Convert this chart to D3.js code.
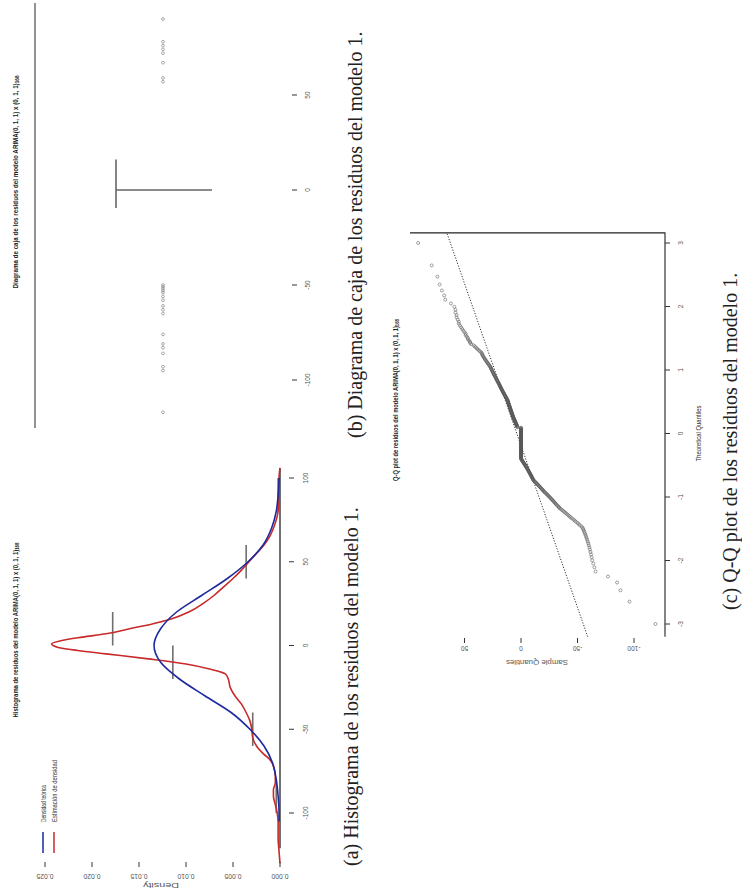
<!DOCTYPE html>
<html>
<head>
<meta charset="utf-8">
<script src="https://cdn.jsdelivr.net/npm/d3@7"></script>
<style>
  body { margin: 0; background: #fff; }
  svg { display: block; }
</style>
</head>
<body>
<script>
// ---- datos ----
// (a) histograma: inicio de cada clase visible (ancho 20) y su densidad
const histInicio = [-100, -60, -20, 0, 40, 80];
const histDensidad = [0.0004, 0.0029, 0.0114, 0.0178, 0.0036, 0.0002];
const histAncho = 20;
const histRango = [-121, 106];

// estimacion de densidad (rojo)
const densValores = [-130, -123, -115, -105, -100, -95, -90, -86, -82, -78, -72, -68, -65, -60, -55, -50, -45, -40, -35, -30, -25, -20, -17, -14, -11, -8, -5, -3, -1, 1, 3, 5, 7, 10, 13, 16, 20, 25, 30, 35, 40, 45, 50, 55, 60, 65, 70, 75, 80, 90, 100, 106];
const densEstimada = [0, 0.0001, 0.0002, 0.0002, 0.0003, 0.0005, 0.0007, 0.0007, 0.0005, 0.0005, 0.0007, 0.0011, 0.0017, 0.0025, 0.0029, 0.0030, 0.0032, 0.0036, 0.0041, 0.0048, 0.0053, 0.0055, 0.0058, 0.0075, 0.0100, 0.0140, 0.0185, 0.0215, 0.0237, 0.0243, 0.0232, 0.0210, 0.0185, 0.0160, 0.0135, 0.0115, 0.0097, 0.0082, 0.0070, 0.0060, 0.0050, 0.0041, 0.0033, 0.0025, 0.0017, 0.0011, 0.0007, 0.0004, 0.0002, 0.0001, 0.0001, 0];

// densidad teorica (azul)
const normValores = [-105, -100, -90, -80, -70, -60, -50, -40, -30, -20, -10, 0, 10, 20, 30, 40, 50, 60, 70, 80, 90, 100];
const normTeorica = [0.0001, 0.0001, 0.0002, 0.0004, 0.0008, 0.0017, 0.0032, 0.0052, 0.0080, 0.0107, 0.0127, 0.0134, 0.0127, 0.0110, 0.0083, 0.0056, 0.0034, 0.0018, 0.0009, 0.0004, 0.0002, 0.0001];

const ticksValor = [-100, -50, 0, 50, 100];
const ticksDens = [0, 0.005, 0.010, 0.015, 0.020, 0.025];

// (b) diagrama de caja: Q1, mediana, Q3 y atipicos
const cajaCuartiles = [-9.5, 0, 16];
const cajaAtipicos = [-117, -95, -93, -86, -83, -81, -76, -65, -63, -61, -58, -56, -54, -53, -52, -51, -50, 57, 59, 67, 72, 74, 76, 78, 90];
const ticksCaja = [-100, -50, 0, 50];

// (c) Q-Q: residuos ordenados
const qqMuestra = [
  -119, -96, -88, -85, -77, -66, -65, -64, -63, -62.5, -62, -61.5, -61, -60.5, -60, -59.5, -59, -58.5, -58, -57.5,
  -57, -56.5, -56, -55.5, -55, -54.5, -53.5, -52, -51, -50, -48.5, -47.5, -46.5, -45, -44,
  -43, -42, -41, -40, -39, -38, -37, -36, -35, -34, -33.5, -33, -32,
  -31.4, -30.8, -30.2, -29.6, -29, -28.4, -27.8, -27.2, -26.6, -26, -25.4, -24.8, -24.2, -23.6, -23, -22.4, -21.8, -21,
  -20.5, -20, -19.5, -19, -18.5, -18, -17.5, -17, -16.5, -16, -15.5, -15, -14.5, -14, -13.5, -13, -12.5, -12, -11.5, -11,
  -10.75, -10.5, -10.25, -10, -9.75, -9.5, -9.25, -9, -8.75, -8.5, -8.25, -8, -7.75, -7.5, -7.25, -7, -6.75, -6.5, -6.25, -6, -5.75, -5.5, -5.25, -5,
  -4.7, -4.4, -4.2, -3.9, -3.6, -3.3, -3.1, -2.8, -2.5, -2.2, -2, -1.7, -1.4, -1.1, -0.9, -0.6, -0.4, -0.2,
  0, 0, 0, 0, 0, 0, 0, 0, 0, 0, 0, 0, 0, 0, 0, 0, 0, 0, 0, 0, 0, 0, 0, 0, 0, 0, 0, 0, 0, 0, 0, 0, 0, 0, 0, 0,
  0, 0, 0, 0, 0, 0, 0, 0, 0, 0, 0, 0, 0, 0, 0, 0, 0, 0, 0, 0, 0, 0, 0, 0, 0, 0, 0, 0, 0, 0, 0, 0, 0, 0, 0,
  3, 3.2, 3.4, 3.5, 3.7, 3.9, 4, 4.2, 4.4, 4.5, 4.7, 4.9, 5, 5.2, 5.4, 5.5, 5.7, 5.9, 6, 6.2, 6.4, 6.5, 6.7, 6.9, 7,
  7.1, 7.3, 7.4, 7.6, 7.7, 7.8, 8, 8.1, 8.3, 8.4, 8.5, 8.7, 8.8, 9, 9.1, 9.2, 9.4, 9.5, 9.7, 9.8, 9.9, 10.1, 10.2, 10.4, 10.5, 10.6, 10.8, 10.9, 11.1, 11.2, 11.3, 11.5, 11.6, 11.8, 11.9, 12,
  12.25, 12.5, 12.75, 13, 13.25, 13.5, 13.75, 14, 14.25, 14.5, 14.75, 15, 15.25, 15.5, 15.75, 16, 16.25, 16.5, 16.75, 17, 17.25, 17.5, 17.75, 18, 18.25, 18.5, 18.75, 19, 19.25, 19.5, 19.75, 20,
  20.3, 20.6, 20.9, 21.2, 21.5, 21.8, 22, 22.3, 22.6, 22.9, 23.2, 23.5, 23.8, 24.1, 24.4, 24.7, 25, 25.3, 25.6, 25.9, 26.2, 26.5, 26.8, 27,
  27.5, 28, 28.5, 29, 29.5, 30, 30.5, 31, 31.5, 32, 32.5, 33, 33.5, 34, 34.3, 34.6, 35,
  36, 37, 38, 39, 40, 41, 42, 44, 45, 45, 46, 47, 47, 48, 49, 49, 50, 51, 52, 53, 54, 55, 55, 56, 57, 57, 58, 58, 59, 62, 67, 68, 70, 72, 74, 79, 91
];
const qqLinea = [3.7, 19.6];      // ordenada, pendiente
const ticksTeo = [-3, -2, -1, 0, 1, 2, 3];
const ticksMuestra = [-100, -50, 0, 50];

const tituloModelo = "ARIMA(0, 1, 1) x (0, 1, 1)";
const captions = [
  "(a) Histograma de los residuos del modelo 1.",
  "(b) Diagrama de caja de los residuos del modelo 1.",
  "(c) Q-Q plot de los residuos del modelo 1."
];

const rojo = "#c82a2a", azul = "#1c2a9e";
const sans = "'Liberation Sans', Arial, sans-serif";
const serif = "'Liberation Serif', 'Times New Roman', serif";

// cuantil normal (Acklam)
function qnorm(p) {
  const a = [-3.969683028665376e+01, 2.209460984245205e+02, -2.759285104469687e+02, 1.383577518672690e+02, -3.066479806614716e+01, 2.506628277459239e+00];
  const b = [-5.447609879822406e+01, 1.615858368580409e+02, -1.556989798598866e+02, 6.680131188771972e+01, -1.328068155288572e+01];
  const c = [-7.784894002430293e-03, -3.223964580411365e-01, -2.400758277161838e+00, -2.549732539343734e+00, 4.374664141464968e+00, 2.938163982698783e+00];
  const d = [7.784695709041462e-03, 3.224671290700398e-01, 2.445134137142996e+00, 3.754408661907416e+00];
  const pl = 0.02425;
  if (p < pl) {
    const q = Math.sqrt(-2 * Math.log(p));
    return (((((c[0]*q+c[1])*q+c[2])*q+c[3])*q+c[4])*q+c[5]) / ((((d[0]*q+d[1])*q+d[2])*q+d[3])*q+1);
  }
  if (p > 1 - pl) {
    const q = Math.sqrt(-2 * Math.log(1 - p));
    return -(((((c[0]*q+c[1])*q+c[2])*q+c[3])*q+c[4])*q+c[5]) / ((((d[0]*q+d[1])*q+d[2])*q+d[3])*q+1);
  }
  const q = p - 0.5, r = q * q;
  return (((((a[0]*r+a[1])*r+a[2])*r+a[3])*r+a[4])*r+a[5])*q / (((((b[0]*r+b[1])*r+b[2])*r+b[3])*r+b[4])*r+1);
}

const width = 742, height = 893;
const svg = d3.select("body").append("svg")
  .attr("width", width).attr("height", height);

// each figure is drawn upright and turned a quarter left, like the page
function panel(y0) {
  return svg.append("g").attr("transform", `translate(0,${y0}) rotate(-90)`);
}

// small R-like text, squeezed to the length seen in the picture
function rtext(g, x, y, str, size, len, opts = {}) {
  const t = g.append("text")
    .attr("x", x).attr("y", y)
    .attr("font-family", sans)
    .attr("font-size", size)
    .attr("text-anchor", opts.anchor || "middle")
    .attr("dominant-baseline", "central")
    .attr("fill", opts.fill || "#222")
    .attr("font-weight", opts.bold ? "bold" : "normal")
    .text(str);
  if (len) t.attr("textLength", len).attr("lengthAdjust", "spacingAndGlyphs");
  if (opts.rot) t.attr("transform", `rotate(-90,${x},${y})`);
  return t;
}

function titulo(g, x, y, prefijo, len) {
  const t = g.append("text")
    .attr("x", x).attr("y", y)
    .attr("font-family", sans).attr("font-size", 8).attr("font-weight", "bold")
    .attr("text-anchor", "middle").attr("dominant-baseline", "central")
    .attr("fill", "#222")
    .attr("textLength", len).attr("lengthAdjust", "spacingAndGlyphs");
  t.append("tspan").text(prefijo + " " + tituloModelo);
  t.append("tspan").attr("font-size", 6).attr("dy", 2).text("168");
}

// ================= (a) histograma =================
const gH = panel(893);
const xH = d3.scaleLinear().domain([-100, 100]).range([80, 415]);
const yH = d3.scaleLinear().domain([0, 0.025]).range([280, 45]);

gH.selectAll("line.bin").data(histInicio).join("line")
  .attr("class", "bin")
  .attr("x1", d => xH(d)).attr("x2", d => xH(d + histAncho))
  .attr("y1", (d, i) => yH(histDensidad[i])).attr("y2", (d, i) => yH(histDensidad[i]))
  .attr("stroke", "#6e6e6e").attr("stroke-width", 1.6);

gH.append("line")
  .attr("x1", xH(histRango[0])).attr("x2", xH(histRango[1]))
  .attr("y1", yH(0)).attr("y2", yH(0))
  .attr("stroke", "#111").attr("stroke-width", 1.2);

const lineaH = d3.line().x(d => xH(d[0])).y(d => yH(d[1])).curve(d3.curveMonotoneX);
gH.append("path")
  .attr("d", lineaH(densValores.map((v, i) => [v, densEstimada[i]])))
  .attr("fill", "none").attr("stroke", rojo).attr("stroke-width", 1.6);
gH.append("path")
  .attr("d", lineaH(normValores.map((v, i) => [v, normTeorica[i]])))
  .attr("fill", "none").attr("stroke", azul).attr("stroke-width", 1.6);

// eje de residuos
ticksValor.forEach(v => {
  gH.append("line").attr("x1", xH(v)).attr("x2", xH(v)).attr("y1", 289).attr("y2", 294)
    .attr("stroke", "#333").attr("stroke-width", 1);
  rtext(gH, xH(v), 305, String(v), 6.5, null, { fill: "#555" });
});
// eje de densidad
ticksDens.forEach(v => {
  gH.append("line").attr("x1", 26).attr("x2", 31).attr("y1", yH(v)).attr("y2", yH(v))
    .attr("stroke", "#333").attr("stroke-width", 1);
  rtext(gH, 17, yH(v), d3.format(".3f")(v), 6.5, 17, { rot: true, fill: "#555" });
});
rtext(gH, 8, 161, "Density", 6.5, 36, { rot: true, fill: "#555" });
titulo(gH, 263, 15, "Histograma de residuos del modelo", 175);

// leyenda
[[azul, "Densidad teórica", 43, 37], [rojo, "Estimación de densidad", 54, 62]].forEach(([col, txt, w, len]) => {
  gH.append("line").attr("x1", 40).attr("x2", 61).attr("y1", w).attr("y2", w)
    .attr("stroke", col).attr("stroke-width", 1.5);
  rtext(gH, 71, w, txt, 6.5, len, { anchor: "start", fill: "#333" });
});

// ================= (b) diagrama de caja =================
const gB = panel(440);
const xB = d3.scaleLinear().domain([-100, 50]).range([60, 345]);

gB.append("line").attr("x1", 12).attr("x2", 437).attr("y1", 35).attr("y2", 35)
  .attr("stroke", "#777").attr("stroke-width", 1.6);
gB.append("line")
  .attr("x1", xB(cajaCuartiles[0])).attr("x2", xB(cajaCuartiles[2]))
  .attr("y1", 116).attr("y2", 116)
  .attr("stroke", "#666").attr("stroke-width", 1.6);
gB.append("line")
  .attr("x1", xB(cajaCuartiles[1])).attr("x2", xB(cajaCuartiles[1]))
  .attr("y1", 116).attr("y2", 212)
  .attr("stroke", "#666").attr("stroke-width", 1.6);
gB.selectAll("circle").data(cajaAtipicos).join("circle")
  .attr("cx", d => xB(d)).attr("cy", 163).attr("r", 1.4)
  .attr("fill", "none").attr("stroke", "#888").attr("stroke-width", 0.7);

ticksCaja.forEach(v => {
  gB.append("line").attr("x1", xB(v)).attr("x2", xB(v)).attr("y1", 292).attr("y2", 297)
    .attr("stroke", "#333").attr("stroke-width", 1);
  rtext(gB, xB(v), 307, String(v), 6.5, null, { fill: "#555" });
});
titulo(gB, 258, 15, "Diagrama de caja de los residuos del modelo", 213);

// ================= (c) Q-Q plot =================
const gQ = panel(893);
const xQ = d3.scaleLinear().domain([-3, 3]).range([269, 650]);
const yQ = d3.scaleLinear().domain([-100, 50]).range([634, 464.5]);
const n = qqMuestra.length;
const qqPuntos = qqMuestra.map((s, i) => [qnorm((i + 0.5) / n), s]);

gQ.append("path")
  .attr("d", `M${xQ(3.16)},410 L${xQ(3.16)},665 L${xQ(-3.2)},665`)
  .attr("fill", "none").attr("stroke", "#222").attr("stroke-width", 1.1);

const zLinea = [-3.2, 3.16];
gQ.append("line")
  .attr("x1", xQ(zLinea[0])).attr("y1", yQ(qqLinea[0] + qqLinea[1] * zLinea[0]))
  .attr("x2", xQ(zLinea[1])).attr("y2", yQ(qqLinea[0] + qqLinea[1] * zLinea[1]))
  .attr("stroke", "#333").attr("stroke-width", 1).attr("stroke-dasharray", "1.2,1.6");

gQ.selectAll("circle").data(qqPuntos).join("circle")
  .attr("cx", d => xQ(d[0])).attr("cy", d => yQ(d[1])).attr("r", 1.5)
  .attr("fill", "none").attr("stroke", "#555").attr("stroke-width", 0.55);

ticksTeo.forEach(v => {
  gQ.append("line").attr("x1", xQ(v)).attr("x2", xQ(v)).attr("y1", 665).attr("y2", 670)
    .attr("stroke", "#333").attr("stroke-width", 1);
  rtext(gQ, xQ(v), 680, String(v), 6.5, null, { fill: "#555" });
});
ticksMuestra.forEach(v => {
  gQ.append("line").attr("x1", 250).attr("x2", 255).attr("y1", yQ(v)).attr("y2", yQ(v))
    .attr("stroke", "#333").attr("stroke-width", 1);
  rtext(gQ, 245, yQ(v), String(v), 6.5, null, { rot: true, fill: "#555" });
});
rtext(gQ, 459.5, 698, "Theoretical Quantiles", 6.5, 56, { fill: "#333" });
rtext(gQ, 231, 537, "Sample Quantiles", 6.5, 62, { rot: true, fill: "#555" });
titulo(gQ, 493, 395, "Q-Q plot de residuos del modelo", 162);

// ================= pies de figura =================
const pies = [[358, 866], [362, 438], [737, 610]];
captions.forEach((txt, i) => {
  svg.append("text")
    .attr("transform", `translate(${pies[i][0]},${pies[i][1]}) rotate(-90)`)
    .attr("font-family", serif).attr("font-size", 20)
    .attr("fill", "#222")
    .text(txt);
});
</script>
</body>
</html>
